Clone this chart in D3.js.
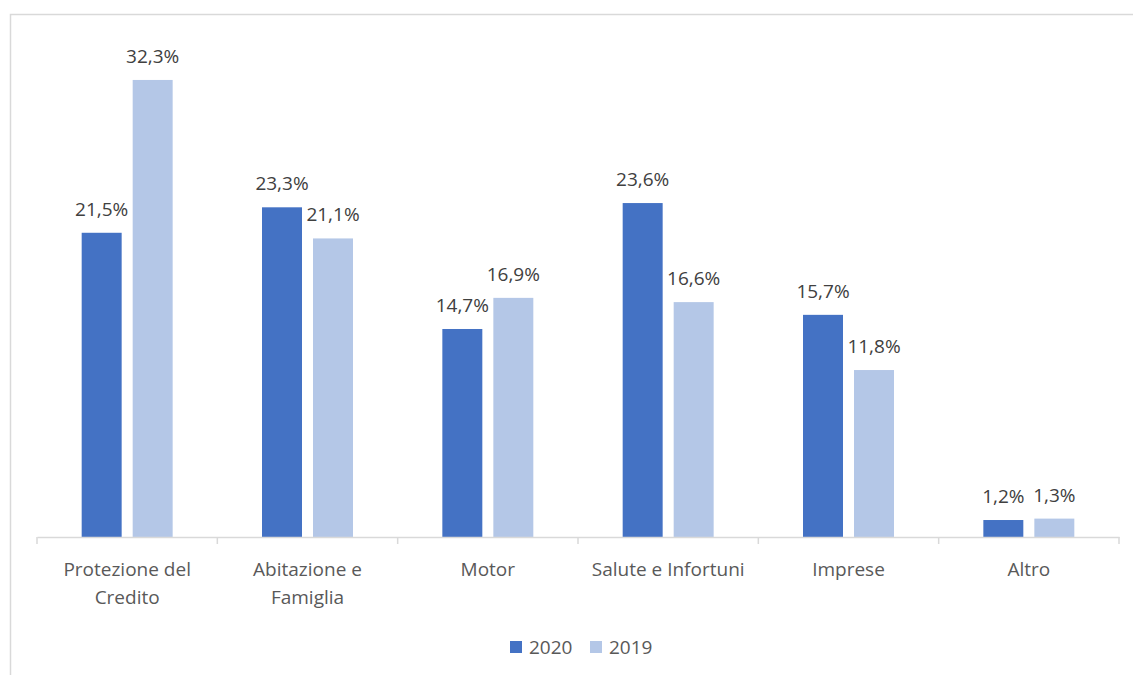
<!DOCTYPE html>
<html>
<head>
<meta charset="utf-8">
<script src="https://cdnjs.cloudflare.com/ajax/libs/d3/7.8.5/d3.min.js"></script>
<style>
  body { margin: 0; background: #fff; }
  text { font-family: "Open Sans", sans-serif; }
</style>
</head>
<body>
<div id="chart"></div>
<script>
// data
let categories = [["Protezione del", "Credito"], ["Abitazione e", "Famiglia"], ["Motor"], ["Salute e Infortuni"], ["Imprese"], ["Altro"]];
let series = ["2020", "2019"];
let values2020 = [21.5, 23.3, 14.7, 23.6, 15.7, 1.2];
let values2019 = [32.3, 21.1, 16.9, 16.6, 11.8, 1.3];
let colors = ["#4472C4", "#B4C7E7"];

let svgWidth = 1133;
let svgHeight = 675;

let svg = d3.select("#chart")
    .append("svg")
    .attr("width", svgWidth)
    .attr("height", svgHeight);

// chart border
svg.append("rect")
    .attr("x", 10.5)
    .attr("y", 14.5)
    .attr("width", 1140)
    .attr("height", 700)
    .attr("fill", "none")
    .attr("stroke", "#d9d9d9")
    .attr("stroke-width", 1.5);

let baseY = 537;
let left = 37, right = 1119;

let x0 = d3.scaleBand()
    .domain(d3.range(categories.length))
    .range([left, right]);

let x1 = d3.scaleBand()
    .domain(series)
    .range([0, x0.bandwidth()])
    .paddingInner(0.216)
    .paddingOuter(0.876);

let y = d3.scaleLinear()
    .domain([0, 35])
    .range([baseY, baseY - 35 * 14.15]);

let rows = categories.map((c, i) => ({ i: i, vals: [values2020[i], values2019[i]] }));

let groups = svg.selectAll(".cat")
    .data(rows)
    .enter()
    .append("g")
    .attr("transform", d => `translate(${x0(d.i)}, 0)`);

groups.selectAll("rect")
    .data(d => d.vals.map((v, k) => ({ s: series[k], v: v, k: k })))
    .enter()
    .append("rect")
    .attr("x", d => x1(d.s))
    .attr("y", d => y(d.v))
    .attr("width", x1.bandwidth())
    .attr("height", d => baseY - y(d.v))
    .attr("fill", d => colors[d.k]);

// value labels
groups.selectAll(".lbl")
    .data(d => d.vals.map((v, k) => ({ s: series[k], v: v, k: k })))
    .enter()
    .append("text")
    .attr("x", d => x1(d.s) + x1.bandwidth() / 2)
    .attr("y", d => y(d.v) - 17)
    .attr("text-anchor", "middle")
    .attr("font-size", "19px")
    .attr("fill", "#404040")
    .text(d => d.v.toFixed(1).replace(".", ",") + "%");

// x axis
let axis = svg.append("g")
    .attr("transform", `translate(0, ${baseY})`)
    .call(d3.axisBottom(x0).tickSize(0).tickFormat(""));
axis.select(".domain").attr("stroke", "#d9d9d9").attr("stroke-width", 1.5);

svg.selectAll(".tk")
    .data(d3.range(categories.length + 1))
    .enter()
    .append("line")
    .attr("x1", i => i < categories.length ? x0(i) : right)
    .attr("x2", i => i < categories.length ? x0(i) : right)
    .attr("y1", baseY)
    .attr("y2", baseY + 7)
    .attr("stroke", "#d9d9d9")
    .attr("stroke-width", 1.5);

// category labels
let catText = svg.selectAll(".catlbl")
    .data(categories)
    .enter()
    .append("text")
    .attr("x", (d, i) => x0(i) + x0.bandwidth() / 2)
    .attr("y", 576)
    .attr("text-anchor", "middle")
    .attr("font-size", "19px")
    .attr("fill", "#595959");

catText.selectAll("tspan")
    .data(d => d)
    .enter()
    .append("tspan")
    .attr("x", function() { return this.parentNode.getAttribute("x"); })
    .attr("dy", (d, j) => j === 0 ? 0 : 28)
    .text(d => d);

// legend
let legendX = [510, 590];
series.forEach((s, k) => {
    svg.append("rect")
        .attr("x", legendX[k])
        .attr("y", 641)
        .attr("width", 12)
        .attr("height", 12)
        .attr("fill", colors[k]);
    svg.append("text")
        .attr("x", legendX[k] + 19)
        .attr("y", 654)
        .attr("font-size", "19px")
        .attr("fill", "#595959")
        .text(s);
});
</script>
</body>
</html>
